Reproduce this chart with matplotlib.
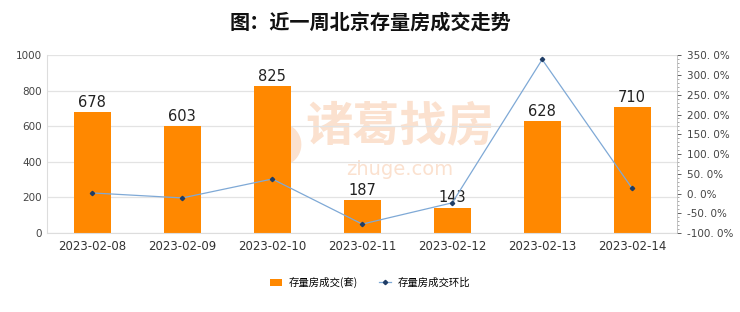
import matplotlib.pyplot as plt
from matplotlib.ticker import FuncFormatter, MultipleLocator

plt.rcParams['font.family'] = ['Noto Sans CJK SC', 'DejaVu Sans']

dates = ['2023-02-08', '2023-02-09', '2023-02-10', '2023-02-11',
         '2023-02-12', '2023-02-13', '2023-02-14']
deals = [678, 603, 825, 187, 143, 628, 710]
ratio = [1.5, -11.1, 36.8, -77.3, -23.5, 339.2, 13.1]

fig = plt.figure(figsize=(7.4, 3.12), dpi=100)
ax = fig.add_axes([0.064, 0.253, 0.851, 0.57])
ax2 = ax.twinx()

x = range(len(dates))
bars = ax.bar(x, deals, width=0.41, color='#ff8800', label='存量房成交(套)', zorder=2)
for xi, v in zip(x, deals):
    ax.text(xi, v + 12, str(v), ha='center', va='bottom', fontsize=10.5,
            color='#222222', family='DejaVu Sans')

ax2.plot(x, ratio, color='#7fa9d6', lw=0.9, marker='D', ms=2.2,
         mfc='#1f3d66', mec='#1f3d66', label='存量房成交环比', zorder=3)

ax.set_xlim(-0.5, 6.5)
ax.set_ylim(0, 1000)
ax.set_yticks(range(0, 1001, 200))
ax2.set_ylim(-100, 350)
ax2.yaxis.set_major_locator(MultipleLocator(50))
ax2.yaxis.set_minor_locator(MultipleLocator(10))
ax2.yaxis.set_major_formatter(FuncFormatter(lambda v, p: ('%.1f%%' % v).replace('.', '. ')))

ax.set_xticks(list(x))
ax.set_xticklabels(dates, fontsize=8.5, color='#333333', family='DejaVu Sans')
ax.tick_params(axis='x', length=0, pad=5)
ax.tick_params(axis='y', labelsize=7.5, colors='#444444', length=0, pad=4)
for lb in ax.get_yticklabels():
    lb.set_family('DejaVu Sans')
ax2.tick_params(axis='y', which='major', labelsize=7.5, colors='#444444', length=3, width=0.6, pad=4)
ax2.tick_params(axis='y', which='minor', length=1.5, width=0.5, colors='#888888')
for lb in ax2.get_yticklabels():
    lb.set_family('DejaVu Sans')

ax.grid(axis='y', color='#e3e3e3', lw=0.9, zorder=0)
for s in ['top']:
    ax.spines[s].set_visible(False)
    ax2.spines[s].set_visible(False)
ax.spines['left'].set_color('#dddddd')
ax.spines['bottom'].set_color('#dddddd')
ax.spines['right'].set_visible(False)
ax2.spines['left'].set_visible(False)
ax2.spines['bottom'].set_visible(False)
ax2.spines['right'].set_color('#bbbbbb')
ax2.spines['right'].set_linewidth(0.6)

fig.text(0.5, 0.93, '图：近一周北京存量房成交走势', ha='center', va='center',
         fontsize=14.5, fontweight='bold', color='#111111')

# watermark behind the bars
ax.text(0.56, 0.6, '诸葛找房', transform=ax.transAxes, ha='center', va='center',
        fontsize=34, color='#fbe1cf', fontweight='bold', zorder=1)
ax.text(0.56, 0.36, 'zhuge.com', transform=ax.transAxes, ha='center', va='center',
        fontsize=14, color='#fbe1cf', zorder=1, family='DejaVu Sans')
ax.text(0.37, 0.5, '◕', transform=ax.transAxes, ha='center', va='center',
        fontsize=40, color='#fbe1cf', zorder=1, family='DejaVu Sans')

h1, l1 = ax.get_legend_handles_labels()
h2, l2 = ax2.get_legend_handles_labels()
fig.legend(h1 + h2, l1 + l2, loc='center', bbox_to_anchor=(0.5, 0.095), ncol=2,
           frameon=False, fontsize=7.5, handlelength=1.2, handleheight=0.7,
           columnspacing=2.0, handletextpad=0.6)

fig.savefig('out.png', dpi=100, facecolor='white')
